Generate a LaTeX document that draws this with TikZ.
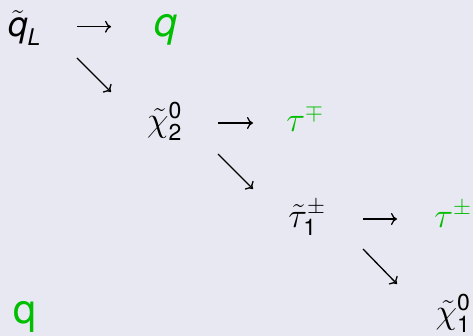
\RequirePackage{fix-cm}
\documentclass[tikz,border=0pt]{standalone}
\usepackage{amsmath}
\usepackage{fontspec}
\setsansfont{TeX Gyre Heros}
\usetikzlibrary{arrows.meta}
\DeclareMathSizes{35}{35}{23}{17}
\definecolor{bgc}{RGB}{232,232,242}
\definecolor{prodgreen}{RGB}{0,190,0}
\newcommand\sfi[1]{\text{\sffamily\itshape #1}}
\newcommand\sfu[1]{\text{\sffamily #1}}
\tikzset{
  part/.style={anchor=base, inner sep=0pt, font=\fontsize{35}{40}\selectfont},
  prod/.style={part, text=prodgreen},
  bigq/.style={prod, font=\fontsize{41}{46}\selectfont\sffamily},
  decay/.style={line width=1.3pt, -{Computer Modern Rightarrow[length=6pt,width=12pt]}}
}
\begin{document}
\begin{tikzpicture}[x=1pt,y=-1pt]
\useasboundingbox[fill=bgc] (0,0) rectangle (473,336);
\node[part] (qL) at (24.5,37) {$\tilde{\sfi{q}}_{\sfi{L}}$};
\node[bigq] (q1) at (166,37) {\itshape q};
\node[part] (chi2) at (164.5,131.5) {$\tilde{\chi}^{\sfu{0}}_{\sfu{2}}$};
\node[prod] (tau1) at (305,131.5) {$\tau^{\mp}$};
\node[part] (stau) at (307,227.5) {$\tilde{\tau}^{\pm}_{\sfu{1}}$};
\node[prod] (tau2) at (453,227.5) {$\tau^{\pm}$};
\node[part] (chi1) at (453,323.5) {$\tilde{\chi}^{\sfu{0}}_{\sfu{1}}$};
\node[bigq] (q2) at (24.5,323.5) {q};
\coordinate (h1s) at (77,26.7);  \coordinate (h1e) at (111,26.7);
\coordinate (d1s) at (77,58);    \coordinate (d1e) at (111,92);
\coordinate (h2s) at (218,123);  \coordinate (h2e) at (253,123);
\coordinate (d2s) at (218,154);  \coordinate (d2e) at (253,189);
\coordinate (h3s) at (363,219);  \coordinate (h3e) at (397,219);
\coordinate (d3s) at (363,249);  \coordinate (d3e) at (397,284);
\draw[decay] (h1s) -- (h1e);
\draw[decay] (d1s) -- (d1e);
\draw[decay] (h2s) -- (h2e);
\draw[decay] (d2s) -- (d2e);
\draw[decay] (h3s) -- (h3e);
\draw[decay] (d3s) -- (d3e);
\end{tikzpicture}
\end{document}
